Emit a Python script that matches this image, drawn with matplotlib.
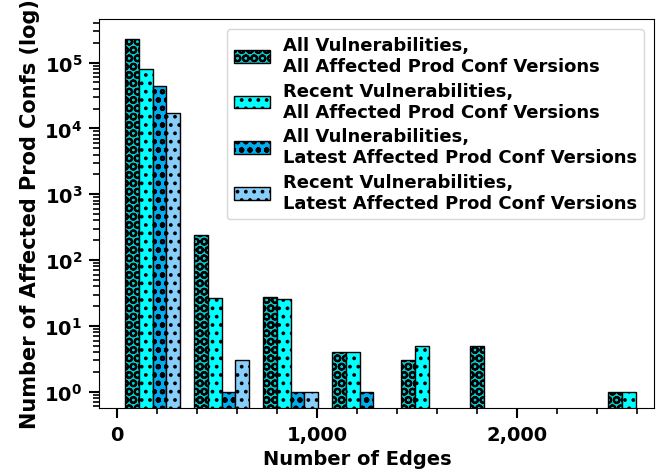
import matplotlib
matplotlib.use("Agg")
import matplotlib.pyplot as plt
import matplotlib.ticker as mticker
import numpy as np

# counts per edge-count bin (8 equal bins)
all_vuln_all_versions = [230000, 237, 28, 4, 3, 5, 0, 1]
recent_vuln_all_versions = [79000, 27, 26, 4, 5, 0, 0, 1]
all_vuln_latest_versions = [44000, 1, 1, 1, 0, 0, 0, 0]
recent_vuln_latest_versions = [17400, 3, 1, 0, 0, 0, 0, 0]

labels = [
    "All Vulnerabilities,\nAll Affected Prod Conf Versions",
    "Recent Vulnerabilities,\nAll Affected Prod Conf Versions",
    "All Vulnerabilities,\nLatest Affected Prod Conf Versions",
    "Recent Vulnerabilities,\nLatest Affected Prod Conf Versions",
]
colors = ["#00CED1", "#00FFFF", "#00AEEF", "#87CEFA"]
hatches = ["OO", "..", "oo", ".."]

bin_start = 5.5
bin_width = 345.0

plt.rcParams["font.family"] = "DejaVu Sans"
plt.rcParams["font.weight"] = "bold"
plt.rcParams["axes.labelweight"] = "bold"
plt.rcParams["mathtext.fontset"] = "dejavusans"
plt.rcParams["mathtext.default"] = "bf"
plt.rcParams["hatch.linewidth"] = 1.5

fig = plt.figure(figsize=(6.65, 4.77), dpi=100)
ax = fig.add_axes([99 / 665, 1 - 409 / 477, 555 / 665, 389 / 477])
ax.set_yscale("log")

series = [all_vuln_all_versions, recent_vuln_all_versions,
          all_vuln_latest_versions, recent_vuln_latest_versions]
n = len(series)
for i, counts in enumerate(series):
    counts = np.array(counts, dtype=float)
    lefts = bin_start + np.arange(len(counts)) * bin_width
    xs = lefts + (0.1 + 0.8 * i / n) * bin_width
    heights = np.where(counts > 0, counts, np.nan)
    ax.bar(xs, heights, width=0.8 * bin_width / n, align="edge",
           color=colors[i], edgecolor="black", linewidth=1.0,
           hatch=hatches[i], label=labels[i])

ax.set_xlim(-90, 2685)
ax.set_ylim(0.567, 4.6e5)
ax.xaxis.set_major_locator(mticker.MultipleLocator(1000))
ax.xaxis.set_minor_locator(mticker.MultipleLocator(200))
ax.xaxis.set_major_formatter(mticker.FuncFormatter(lambda v, p: "{:,.0f}".format(v)))
ax.yaxis.set_major_locator(mticker.LogLocator(base=10, numticks=10))
ax.yaxis.set_minor_locator(mticker.LogLocator(base=10, subs=np.arange(2, 10), numticks=10))
ax.yaxis.set_minor_formatter(mticker.NullFormatter())

ax.tick_params(axis="both", which="major", labelsize=14, length=7, width=1.5, pad=5)
ax.tick_params(axis="both", which="minor", length=4, width=1.2)
for lab in ax.get_xticklabels() + ax.get_yticklabels():
    lab.set_fontweight("bold")

ax.set_xlabel("Number of Edges", fontsize=14, fontweight="bold")
ax.set_ylabel("Number of Affected Prod Confs (log)", fontsize=15, fontweight="bold")
ax.xaxis.set_label_coords(0.465, -0.105)
ax.yaxis.set_label_coords(-0.106, 0.5)

ax.legend(loc="upper right", prop={"size": 13, "weight": "bold"},
          borderaxespad=0.55, labelspacing=0.38, handletextpad=0.7)

fig.savefig("out.png", dpi=100)
